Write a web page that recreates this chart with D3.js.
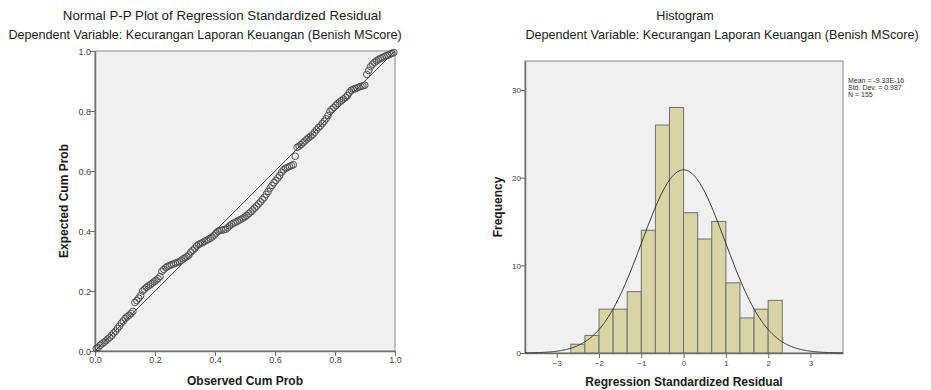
<!DOCTYPE html>
<html><head><meta charset="utf-8">
<script src="https://cdn.jsdelivr.net/npm/d3@7"></script>
<style>
body{margin:0;background:#fff;}
svg{display:block;font-family:"Liberation Sans",Arial,sans-serif;}
</style></head>
<body><svg id="c" width="931" height="390"></svg>
<script>
// ---------- DATA ----------
const ppTitle = "Normal P-P Plot of Regression Standardized Residual";
const histTitle = "Histogram";
const depVar = "Dependent Variable: Kecurangan Laporan Keuangan (Benish MScore)";
const ppTicks = [0, 0.2, 0.4, 0.6, 0.8, 1.0];
// expected cumulative probabilities of the sorted residuals, N = 155
const expectedCumProb = [
 .008,.012,.019,.024,.029,.034,.040,.045,.052,.060,
 .066,.075,.083,.093,.100,.108,.114,.119,.125,.132,
 .162,.168,.176,.185,.200,.206,.212,.217,.221,.226,
 .231,.236,.241,.248,.266,.272,.278,.282,.285,.288,
 .290,.293,.295,.298,.302,.307,.311,.315,.320,.330,
 .336,.342,.350,.355,.358,.361,.365,.369,.372,.376,
 .380,.386,.393,.399,.402,.403,.404,.406,.411,.417,
 .422,.426,.429,.432,.436,.439,.443,.447,.452,.458,
 .464,.470,.476,.483,.490,.497,.505,.512,.522,.532,
 .543,.552,.561,.569,.577,.585,.596,.604,.609,.612,
 .615,.618,.621,.649,.679,.683,.688,.694,.700,.706,
 .711,.716,.721,.729,.737,.745,.750,.758,.766,.774,
 .785,.799,.806,.812,.819,.825,.830,.835,.840,.845,
 .851,.862,.869,.872,.875,.877,.880,.882,.884,.886,
 .922,.935,.948,.956,.962,.967,.971,.975,.978,.981,
 .984,.986,.989,.992,.995
];
// histogram bins (lower edges, width 1/3) and frequencies
const binStarts = [-8/3,-7/3,-2,-5/3,-4/3,-1,-2/3,-1/3,0,1/3,2/3,1,4/3,5/3,2];
const binWidth = 1/3;
const frequencies = [1,2,5,5,7,14,26,28,16,13,15,8,4,5,6];
const histXTicks = [-3,-2,-1,0,1,2,3];
const histYTicks = [0,10,20,30];
const statMean = -9.33e-16, statSD = 0.987, statN = 155;
const legendLines = ["Mean = -9.33E-16","Std. Dev. = 0.987","N = 155"];

// ---------- DRAW ----------
const svg = d3.select("#c");
const plotBg = "#f0f0f0", frameCol = "#9a9a9a", axisCol = "#6e6e6e", tickTxt = "#444";

// ---- P-P plot ----
const pp = {l:95, r:395, t:51, b:351};
const px = d3.scaleLinear().domain([0,1]).range([pp.l, pp.r]);
const py = d3.scaleLinear().domain([0,1]).range([pp.b, pp.t]);
svg.append("rect").attr("x",pp.l).attr("y",pp.t).attr("width",pp.r-pp.l).attr("height",pp.b-pp.t)
  .attr("fill",plotBg).attr("stroke",frameCol).attr("stroke-width",1.2);
const axL = svg.append("g").attr("transform",`translate(${pp.l},0)`)
  .call(d3.axisLeft(py).tickValues(ppTicks).tickFormat(d3.format(".1f")).tickSize(5).tickSizeOuter(0));
const axB = svg.append("g").attr("transform",`translate(0,${pp.b})`)
  .call(d3.axisBottom(px).tickValues(ppTicks).tickFormat(d3.format(".1f")).tickSize(5).tickSizeOuter(0));
[axL,axB].forEach(a=>{
  a.select(".domain").attr("stroke",axisCol).attr("stroke-width",1.5);
  a.selectAll(".tick line").attr("stroke",axisCol);
  a.selectAll(".tick text").attr("fill",tickTxt).style("font-size","9px").style("font-family","Liberation Sans, Arial, sans-serif");
});
axL.selectAll(".tick text").attr("x",-4).attr("dy","0.35em");
axB.selectAll(".tick text").attr("y",6).attr("dy","0.71em");
// diagonal reference
svg.append("line").attr("x1",px(0)).attr("y1",py(0)).attr("x2",px(1)).attr("y2",py(1))
  .attr("stroke","#444").attr("stroke-width",1);
const nPP = expectedCumProb.length;
svg.append("g").selectAll("circle").data(expectedCumProb).join("circle")
  .attr("cx",(d,i)=>px((i+1-0.375)/(nPP+0.25)))
  .attr("cy",d=>py(d))
  .attr("r",3.3).attr("fill","none").attr("stroke","#4e4e4e").attr("stroke-width",1);

svg.append("text").attr("x",222).attr("y",20).attr("text-anchor","middle")
  .attr("fill","#1a1a1a").style("font-size","13.3px").text(ppTitle);
svg.append("text").attr("x",205).attr("y",39).attr("text-anchor","middle")
  .attr("fill","#1a1a1a").style("font-size","12.6px").text(depVar);
svg.append("text").attr("x",245).attr("y",385).attr("text-anchor","middle")
  .attr("fill","#1a1a1a").style("font-size","12px").style("font-weight","bold").text("Observed Cum Prob");
svg.append("text").attr("transform","translate(68,201) rotate(-90)").attr("text-anchor","middle")
  .attr("fill","#1a1a1a").style("font-size","12px").style("font-weight","bold").text("Expected Cum Prob");

// ---- Histogram ----
const hp = {l:525, r:843, t:61, b:353};
const hx = d3.scaleLinear().domain([-3.75,3.77]).range([hp.l,hp.r]);
const hy = d3.scaleLinear().domain([0,33.3]).range([hp.b,hp.t]);
svg.append("rect").attr("x",hp.l).attr("y",hp.t).attr("width",hp.r-hp.l).attr("height",hp.b-hp.t)
  .attr("fill",plotBg).attr("stroke",frameCol).attr("stroke-width",1.2);
svg.append("g").selectAll("rect").data(frequencies).join("rect")
  .attr("x",(d,i)=>hx(binStarts[i]))
  .attr("width",(d,i)=>hx(binStarts[i]+binWidth)-hx(binStarts[i]))
  .attr("y",d=>hy(d)).attr("height",d=>hy(0)-hy(d))
  .attr("fill","#d8d4a6").attr("stroke","#6f6f6f").attr("stroke-width",1);
const hL = svg.append("g").attr("transform",`translate(${hp.l},0)`)
  .call(d3.axisLeft(hy).tickValues(histYTicks).tickSize(5).tickSizeOuter(0));
const hB = svg.append("g").attr("transform",`translate(0,${hp.b})`)
  .call(d3.axisBottom(hx).tickValues(histXTicks).tickSize(5).tickSizeOuter(0));
[hL,hB].forEach(a=>{
  a.select(".domain").attr("stroke",axisCol).attr("stroke-width",1.5);
  a.selectAll(".tick line").attr("stroke",axisCol);
  a.selectAll(".tick text").attr("fill",tickTxt).style("font-size","8px").style("font-family","Liberation Sans, Arial, sans-serif");
});
hL.selectAll(".tick text").attr("x",-4).attr("dy","0.35em");
hB.selectAll(".tick text").attr("y",7).attr("dy","0.71em");
// fitted normal curve from the stated statistics
const curveX = d3.range(-3.75, 3.771, 0.02);
const dens = x => statN*binWidth/(statSD*Math.sqrt(2*Math.PI))*Math.exp(-0.5*((x-statMean)/statSD)**2);
svg.append("path").datum(curveX)
  .attr("d",d3.line().x(d=>hx(d)).y(d=>hy(dens(d))))
  .attr("fill","none").attr("stroke","#333").attr("stroke-width",1);
// legend text
svg.append("g").selectAll("text").data(legendLines).join("text")
  .attr("x",848).attr("y",(d,i)=>83+i*7)
  .attr("fill","#333").style("font-size","7px").text(d=>d);

svg.append("text").attr("x",685).attr("y",20).attr("text-anchor","middle")
  .attr("fill","#1a1a1a").style("font-size","12.6px").text(histTitle);
svg.append("text").attr("x",722).attr("y",39).attr("text-anchor","middle")
  .attr("fill","#1a1a1a").style("font-size","12.6px").text(depVar);
svg.append("text").attr("x",684).attr("y",386).attr("text-anchor","middle")
  .attr("fill","#1a1a1a").style("font-size","12px").style("font-weight","bold").text("Regression Standardized Residual");
svg.append("text").attr("transform","translate(502,207) rotate(-90)").attr("text-anchor","middle")
  .attr("fill","#1a1a1a").style("font-size","12px").style("font-weight","bold").text("Frequency");
</script></body></html>
